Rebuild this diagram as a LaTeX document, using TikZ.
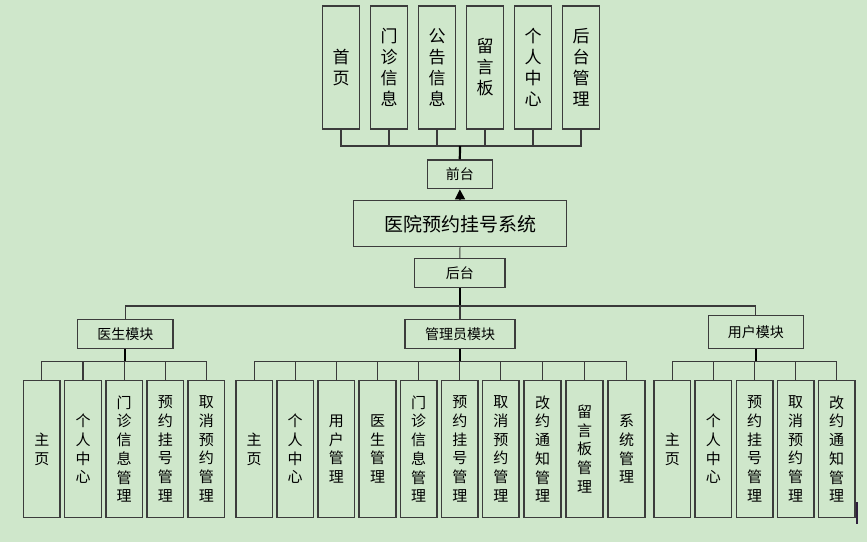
\documentclass[tikz,border=0pt]{standalone}
\usepackage{fontspec}
\newfontfamily\cjk{Noto Sans CJK SC}
\usetikzlibrary{arrows.meta}
\definecolor{bgc}{HTML}{CFE7CB}
\definecolor{boxc}{HTML}{3C3C3C}
\definecolor{connc}{HTML}{3A3A3A}
\definecolor{cursorc}{HTML}{2E1E3C}
\begin{document}
\begin{tikzpicture}[x=1pt,y=-1pt,
 box/.style={draw=boxc, line width=1.4pt, inner sep=0pt, align=center, text=black},
 tbox/.style={box, minimum width=36.7pt, minimum height=123pt, font=\cjk\fontsize{17}{21}\selectfont},
 bbox/.style={box, minimum width=36.7pt, minimum height=137.4pt, font=\cjk\fontsize{15}{18.7}\selectfont},
 mod/.style={box, minimum height=29.4pt, font=\cjk\fontsize{14}{16}\selectfont},
 conn/.style={draw=connc, line width=1.3pt},
 trunk/.style={draw=black, line width=2.2pt}]
\fill[bgc] (0,0) rectangle (867,542);
\useasboundingbox (0,0) rectangle (867,542);

% top boxes
\node[tbox] (t1) at (341,67.5) {首\\页};
\node[tbox] (t2) at (389,67.5) {门\\诊\\信\\息};
\node[tbox] (t3) at (437,67.5) {公\\告\\信\\息};
\node[tbox] (t4) at (485,67.5) {留\\言\\板};
\node[tbox] (t5) at (533,67.5) {个\\人\\中\\心};
\node[tbox] (t6) at (581,67.5) {后\\台\\管\\理};

\node[mod, minimum width=65pt, minimum height=28.7pt] (qt) at (459.8,174.3) {前台};
\node[box, minimum width=213.4pt, minimum height=46pt, font=\cjk\fontsize{19}{22}\selectfont] (main) at (460,223.7) {医院预约挂号系统};
\node[mod, minimum width=90.3pt, minimum height=28.6pt] (ht) at (459.8,273) {后台};

\node[mod, minimum width=95.3pt] (m1) at (125.3,334) {医生模块};
\node[mod, minimum width=110pt] (m2) at (460,334) {管理员模块};
\node[mod, minimum width=95pt, minimum height=33pt] (m3) at (755.8,331.8) {用户模块};

% doctor subs
\node[bbox] (d1) at (41.8,449) {主\\页};
\node[bbox] (d2) at (83,449) {个\\人\\中\\心};
\node[bbox] (d3) at (124.2,449) {门\\诊\\信\\息\\管\\理};
\node[bbox] (d4) at (165.3,449) {预\\约\\挂\\号\\管\\理};
\node[bbox] (d5) at (206.3,449) {取\\消\\预\\约\\管\\理};

% admin subs
\node[bbox] (a1) at (254.2,449) {主\\页};
\node[bbox] (a2) at (295.2,449) {个\\人\\中\\心};
\node[bbox] (a3) at (336.3,449) {用\\户\\管\\理};
\node[bbox] (a4) at (377.5,449) {医\\生\\管\\理};
\node[bbox] (a5) at (418.7,449) {门\\诊\\信\\息\\管\\理};
\node[bbox] (a6) at (459.8,449) {预\\约\\挂\\号\\管\\理};
\node[bbox] (a7) at (500.8,449) {取\\消\\预\\约\\管\\理};
\node[bbox] (a8) at (542.5,449) {改\\约\\通\\知\\管\\理};
\node[bbox] (a9) at (584.5,449) {留\\言\\板\\管\\理};
\node[bbox] (a10) at (626.5,449) {系\\统\\管\\理};

% user subs
\node[bbox] (u1) at (672.3,449) {主\\页};
\node[bbox] (u2) at (713.3,449) {个\\人\\中\\心};
\node[bbox] (u3) at (754.7,449) {预\\约\\挂\\号\\管\\理};
\node[bbox] (u4) at (795.7,449) {取\\消\\预\\约\\管\\理};
\node[bbox] (u5) at (836.7,449) {改\\约\\通\\知\\管\\理};

% buses
\coordinate (tb) at (460,146);
\coordinate (mb) at (460,306);
\coordinate (sb) at (460,361.7);

% top connectors
\draw[conn] (t1.south) -- (t1.south |- tb) -- (t6.south |- tb) -- (t6.south);
\foreach \n in {t2,t3,t4,t5} \draw[conn] (\n.south) -- (\n.south |- tb);
\draw[trunk] (tb) -- (qt.north);
\draw[draw=black, line width=1.3pt, -{Triangle[width=10pt,length=10pt]}] (main.north) -- (qt.south);
\draw[conn, line width=1pt] (main.south) -- (ht.north);
\draw[trunk] (ht.south) -- (ht.south |- mb);
\draw[conn] (m1.north) -- (m1.north |- mb) -- (m3.north |- mb) -- (m3.north);
\draw[conn] (m2.north) -- (m2.north |- mb);

% module sub buses
\draw[trunk] (m1.south) -- (m1.south |- sb);
\draw[conn] (d1.north) -- (d1.north |- sb) -- (d5.north |- sb) -- (d5.north);
\foreach \n in {d2,d3,d4} \draw[conn] (\n.north) -- (\n.north |- sb);

\draw[trunk] (m2.south) -- (m2.south |- sb);
\draw[conn] (a1.north) -- (a1.north |- sb) -- (a10.north |- sb) -- (a10.north);
\foreach \n in {a2,a3,a4,a5,a6,a7,a8,a9} \draw[conn] (\n.north) -- (\n.north |- sb);

\draw[trunk] (m3.south) -- (m3.south |- sb);
\draw[conn] (u1.north) -- (u1.north |- sb) -- (u5.north |- sb) -- (u5.north);
\foreach \n in {u2,u3,u4} \draw[conn] (\n.north) -- (\n.north |- sb);

% stray mark
\draw[draw=cursorc, line width=2.2pt] (857,502) -- (857,524);
\end{tikzpicture}
\end{document}
